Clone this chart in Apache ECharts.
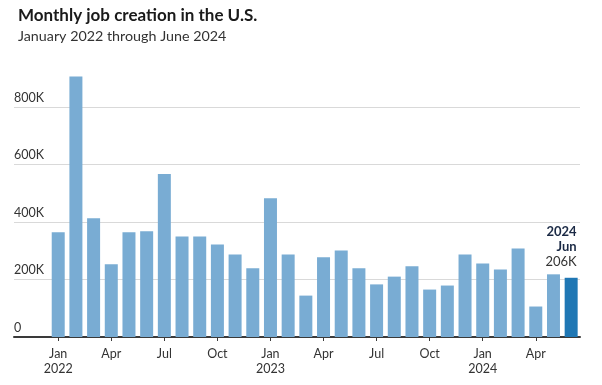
<!DOCTYPE html>
<html>
<head>
<meta charset="utf-8">
<script src="https://cdn.jsdelivr.net/npm/echarts@6/dist/echarts.min.js"></script>
<style>
html,body{margin:0;padding:0;background:#fff;}
#chart{width:602px;height:385px;}
</style>
</head>
<body>
<div id="chart"></div>
<script>
// Data (thousands of jobs)
const months = ['Jan 2022','Feb 2022','Mar 2022','Apr 2022','May 2022','Jun 2022','Jul 2022','Aug 2022','Sep 2022','Oct 2022','Nov 2022','Dec 2022',
  'Jan 2023','Feb 2023','Mar 2023','Apr 2023','May 2023','Jun 2023','Jul 2023','Aug 2023','Sep 2023','Oct 2023','Nov 2023','Dec 2023',
  'Jan 2024','Feb 2024','Mar 2024','Apr 2024','May 2024','Jun 2024'];
const jobs = [364, 906, 413, 253, 364, 368, 567, 350, 350, 322, 287, 239,
  483, 287, 144, 277, 301, 239, 183, 210, 246, 165, 179, 287,
  256, 235, 308, 106, 218, 206];
const yTicks = [0, 200, 400, 600, 800];
const tickMonths = ['Jan','Apr','Jul','Oct'];
const leadBlanks = ['', ''];

const FONT = 'Lato, "Open Sans", sans-serif';
const cats = leadBlanks.concat(months);
const showTick = (i, v) => { const s = cats[i]; return !!s && tickMonths.includes(s.split(' ')[0]); };

const seriesData = leadBlanks.map(() => '-').concat(jobs.map((v, i) => {
  if (i === jobs.length - 1) {
    const [m, y] = months[i].split(' ');
    return {
      value: v,
      itemStyle: { color: '#1f77b4' },
      label: {
        show: true,
        position: [12, -8],
        align: 'right',
        verticalAlign: 'bottom',
        formatter: '{b|' + y + '}\n{b|' + m + '}\n{n|' + v + 'K}',
        rich: {
          b: { fontFamily: FONT, fontWeight: 'bold', fontSize: 13, color: '#1b2a45', lineHeight: 15, align: 'right' },
          n: { fontFamily: FONT, fontSize: 13, color: '#333', lineHeight: 15, align: 'right' }
        }
      }
    };
  }
  return v;
}));

const chart = echarts.init(document.getElementById('chart'), null, { renderer: 'canvas' });
chart.setOption({
  animation: false,
  title: [
    { text: 'Monthly job creation in the U.S.', left: 13, top: 2,
      textStyle: { fontFamily: FONT, fontWeight: 'bold', fontSize: 17, color: '#1a1a1a' } },
    { text: 'January 2022 through June 2024', left: 13, top: 24,
      textStyle: { fontFamily: FONT, fontWeight: 'normal', fontSize: 14.3, color: '#333' } }
  ],
  grid: { left: 14, right: 22, top: 107, bottom: 48, containLabel: false },
  xAxis: {
    type: 'category',
    data: cats,
    boundaryGap: true,
    axisLine: { show: true, lineStyle: { color: '#3a3a3a', width: 2 } },
    axisTick: { show: true, alignWithLabel: true, interval: showTick, length: 4, lineStyle: { color: '#3a3a3a', width: 1 } },
    axisLabel: {
      interval: showTick,
      margin: 9,
      fontFamily: FONT, fontSize: 12.5, color: '#333', lineHeight: 15,
      formatter: (v) => { const [m, y] = v.split(' '); return m === 'Jan' ? m + '\n' + y : m; }
    },
    splitLine: { show: false }
  },
  yAxis: {
    type: 'value',
    min: yTicks[0], max: yTicks[yTicks.length - 1], interval: 200,
    axisLine: { show: false },
    axisTick: { show: false },
    axisLabel: {
      inside: true, margin: 0, verticalAlign: 'bottom', padding: [0, 0, 3, 0],
      fontFamily: FONT, fontSize: 12.5, color: '#333',
      formatter: (v) => v === 0 ? '0' : v + 'K'
    },
    splitLine: { show: true, lineStyle: { color: '#d9d9d9', width: 1 } }
  },
  series: [{
    type: 'bar',
    data: seriesData,
    barWidth: 13,
    clip: false,
    itemStyle: { color: '#79acd3' }
  }]
});
</script>
</body>
</html>
